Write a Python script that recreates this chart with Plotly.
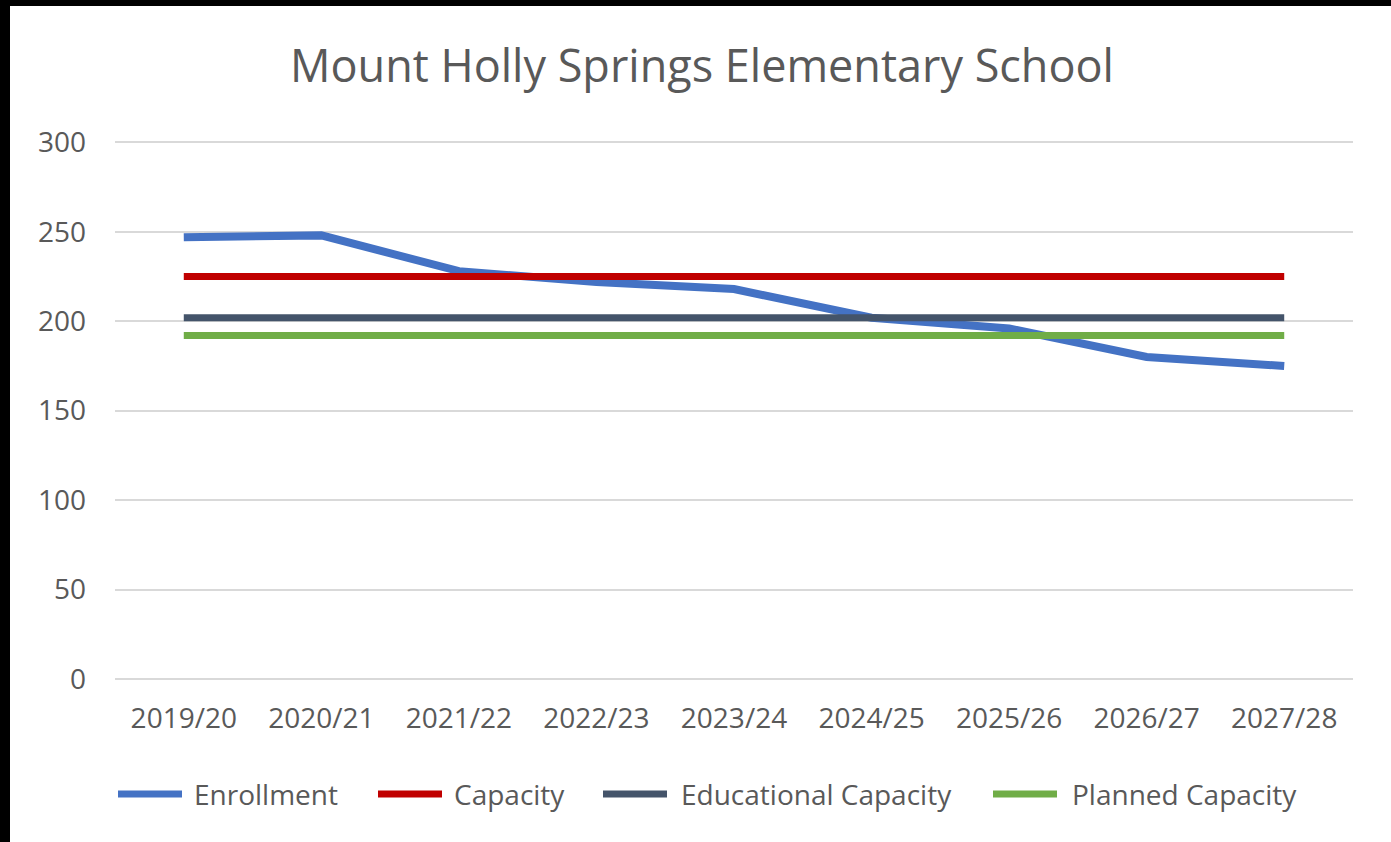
import plotly.graph_objects as go

years = ["2019/20", "2020/21", "2021/22", "2022/23", "2023/24",
         "2024/25", "2025/26", "2026/27", "2027/28"]
enrollment = [247, 248, 228, 222, 218, 202, 196, 180, 175]
capacity = [225] * 9
educational_capacity = [202] * 9
planned_capacity = [192] * 9

W, H = 1391, 842
ML, MR, MT, MB = 115, 38, 137, 163
TXT = "#595959"
FONT = "Open Sans, Liberation Sans, sans-serif"
pw, ph = W - ML - MR, H - MT - MB


def px_x(p):
    return (p - ML) / pw


def px_y(p):
    return 1 - (p - MT) / ph


series = [
    ("Enrollment", enrollment, "#4472C4", 8),
    ("Capacity", capacity, "#C00000", 7),
    ("Educational Capacity", educational_capacity, "#44546A", 7),
    ("Planned Capacity", planned_capacity, "#70AD47", 7),
]
# legend layout (pixel x of swatch start / text start), Excel-style long swatches
legend_pos = [(115, 192), (375, 452), (600, 679), (990, 1070)]
LEGEND_Y = 794

fig = go.Figure()
for name, vals, color, w in series:
    fig.add_trace(go.Scatter(x=years, y=vals, mode="lines", name=name,
                             line=dict(color=color, width=w), showlegend=False))

for (name, _, color, w), (sx, tx) in zip(series, legend_pos):
    fig.add_shape(type="line", xref="paper", yref="paper",
                  x0=px_x(sx + 3), x1=px_x(sx + 67), y0=px_y(LEGEND_Y), y1=px_y(LEGEND_Y),
                  line=dict(color=color, width=7))
    fig.add_annotation(text=name, xref="paper", yref="paper", x=px_x(tx), y=px_y(LEGEND_Y),
                       xanchor="left", yanchor="middle", showarrow=False,
                       font=dict(size=28, color=TXT))

# border strips seen at top/left edge of the screenshot
fig.add_shape(type="rect", xref="paper", yref="paper", layer="above",
              x0=px_x(0), x1=px_x(10), y0=px_y(H), y1=px_y(0),
              fillcolor="black", line_width=0)
fig.add_shape(type="rect", xref="paper", yref="paper", layer="above",
              x0=px_x(0), x1=px_x(W), y0=px_y(6), y1=px_y(0),
              fillcolor="black", line_width=0)

fig.update_layout(
    width=W, height=H,
    margin=dict(l=ML, r=MR, t=MT, b=MB),
    paper_bgcolor="white", plot_bgcolor="white",
    font=dict(family=FONT, color=TXT, size=28),
    title=dict(text="Mount Holly Springs Elementary School", x=702 / W, xanchor="center",
               y=1 - 66 / H, yanchor="middle", font=dict(size=45, color=TXT)),
    xaxis=dict(range=[-0.5, 8.5], showgrid=False, showline=False, ticks="",
               tickfont=dict(size=28, color=TXT), ticklabelstandoff=20),
    yaxis=dict(range=[0, 303], tickvals=[0, 50, 100, 150, 200, 250, 300],
               showgrid=True, gridcolor="#D9D9D9", gridwidth=1.5,
               zeroline=True, zerolinecolor="#D9D9D9", zerolinewidth=1.5,
               showline=False, ticks="",
               tickfont=dict(size=28, color=TXT), ticklabelstandoff=28),
    showlegend=False,
)

fig.write_html("out.html", config={"displayModeBar": False},
               post_script="document.body.style.margin='0';document.body.style.overflow='hidden';")
